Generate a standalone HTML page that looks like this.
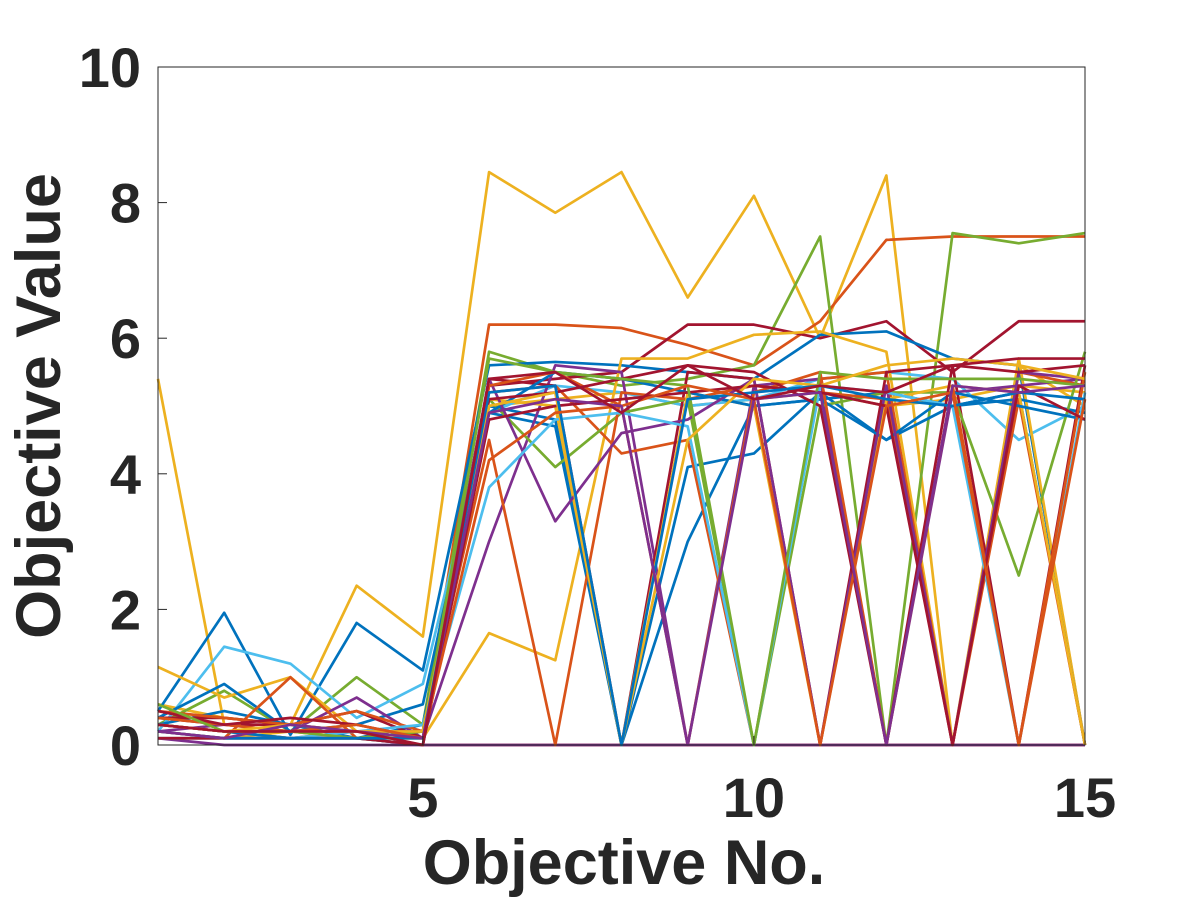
<!DOCTYPE html>
<html><head><meta charset="utf-8"><style>
body{margin:0;background:#fff;}
svg text{font-family:"Liberation Sans",Arial,sans-serif;font-weight:bold;fill:#262626;}
</style></head><body>
<svg id="chart" width="1200" height="900" viewBox="0 0 1200 900" xmlns="http://www.w3.org/2000/svg">
<rect width="1200" height="900" fill="#fff"/>
<g id="lines"></g>
<rect x="158" y="67" width="927" height="678" fill="none" stroke="#262626" stroke-width="1"/>
<g id="ticks"></g>
<text x="624" y="884" font-size="63" text-anchor="middle">Objective No.</text>
<text transform="translate(60,406) rotate(-90)" font-size="63" text-anchor="middle">Objective Value</text>
</svg>
<script>
const xTicks=[5,10,15];
const yTicks=[0,2,4,6,8,10];
const s1=[5.4,0.3,0.2,0.1,0.1,5.0,5.1,5.2,5.0,5.1,5.2,5.0,5.1,5.3,5.2];
const s2=[0.6,0.4,0.3,2.35,1.6,8.45,7.85,8.45,6.6,8.1,6.0,8.4,0,5.6,5.0];
const s3=[0.3,0.2,0.1,0.2,0.2,6.2,6.2,6.15,5.9,5.6,6.25,7.45,7.5,7.5,7.5];
const s4=[0.3,0.8,0.2,1.0,0.3,5.8,5.5,5.3,5.4,5.6,7.5,0,7.55,7.4,7.55];
const s5=[0.4,0.3,0.3,0.2,0.1,5.3,5.4,5.5,6.2,6.2,6.0,6.25,5.5,6.25,6.25];
const s6=[0.5,1.95,0.15,1.8,1.1,5.6,5.65,5.6,5.5,5.4,6.05,6.1,5.7,5.6,0];
const s7=[0.2,1.45,1.2,0.4,0.9,4.9,5.3,5.2,5.0,5.1,5.4,5.5,5.4,4.5,5.0];
const s8=[0.1,0.1,0.1,0.1,0,0,0,0,0,0,0,0,0,0,0];
const s9=[1.15,0.7,1.0,0.2,0.1,1.65,1.25,5.7,5.7,6.05,6.1,5.8,0,5.7,0];
const s10=[0.1,0,0,0,0,0,0,0,0,0,0,0,0,0,0];
const s11=[0.4,0.9,0.2,0.3,0.6,5.0,4.8,0,4.1,4.3,5.2,4.5,5.0,5.2,0];
const s12=[0.3,0.5,0.3,0.1,0.3,4.9,4.7,0,3.0,5.0,5.1,5.2,5.0,5.1,4.9];
const s13=[0.3,0.2,0.2,0.7,0.1,3.0,5.6,5.5,0,5.3,5.4,0,5.2,5.3,5.4];
const s14=[0.2,0.1,1.0,0.1,0.2,5.2,5.3,4.3,4.5,0,5.4,5.5,0,5.5,5.3];
const s15=[0.4,0.4,0.3,0.5,0.1,5.4,5.3,0,5.5,5.4,0,5.5,5.6,0,5.6];
const s16=[0.3,0.2,0.1,0.1,0.2,5.1,4.1,4.9,5.1,0,5.0,5.2,5.2,2.5,5.8];
const s17=[0.5,0.4,0.3,0.5,0.2,4.5,0,5.2,5.1,5.3,5.2,5.1,0,5.1,0];
const s18=[0.2,0.1,0.2,0.1,0.1,5.1,5.0,0,5.2,5.0,0,5.1,5.3,5.2,0];
const s19=[0.3,0.2,0.1,0.1,0.0,4.9,5.5,5.4,5.2,5.0,5.1,4.5,5.2,5.0,4.8];
const s20=[0.2,0.3,0.2,0.2,0.2,5.4,3.3,4.6,4.8,5.4,0,5.3,0,5.5,5.4];
const s21=[0.1,0.1,0.1,0.2,0.3,3.8,4.8,4.9,4.7,0,5.3,5.2,5.0,0,5.2];
const s22=[0.4,0.3,0.2,0.2,0.1,5.3,5.5,5.0,0,5.2,5.5,0,5.3,0,5.5];
const s23=[0.5,0.3,0.4,0.3,0.1,5.1,5.2,5.4,5.6,5.5,5.0,0,5.6,5.5,5.6];
const s24=[0.1,0.1,0.1,0.1,0.0,4.8,5.0,5.1,5.2,5.3,5.2,5.0,0,5.3,4.8];
const s25=[0.6,0.2,0.2,0.1,0.2,5.7,5.5,5.4,5.3,0,5.5,5.4,5.4,5.4,5.3];
const s26=[0.3,0.2,0.3,0.2,0.2,5.0,5.2,0,4.5,5.4,5.3,5.6,5.7,5.6,5.4];
const s27=[0.2,0.1,0.1,0.1,0.1,5.2,5.3,0,5.1,5.2,5.3,5.1,5.0,5.2,5.1];
const s28=[0.3,0.2,0.2,0.3,0.1,4.2,4.9,5.0,5.3,5.1,0,5.0,5.2,0,5.1];
const s29=[0.2,0.1,0.3,0.2,0.1,4.9,5.1,5.0,0,5.1,5.2,0,5.3,5.2,5.3];
const s30=[0.3,0.2,0.2,0.2,0.0,5.4,5.5,4.9,5.6,5.1,5.3,5.2,5.6,5.7,5.7];
const series=[s1,s2,s3,s4,s5,s6,s7,s8,s9,s10,s11,s12,s13,s14,s15,s16,s17,s18,s19,s20,s21,s22,s23,s24,s25,s26,s27,s28,s29,s30];
const colorIdx=[2,2,1,4,6,0,5,1,2,3,0,0,3,1,6,4,1,2,0,3,5,1,6,6,4,2,0,1,3,6];
const palette=['#0072BD','#D95319','#EDB120','#7E2F8E','#77AC30','#4DBEEE','#A2142F'];
const NS='http://www.w3.org/2000/svg';
const X=v=>158+(v-1)*(927/14);
const Y=v=>745-v*67.8;
const lg=document.getElementById('lines');
series.forEach((s,i)=>{
  const p=document.createElementNS(NS,'polyline');
  p.setAttribute('points',s.map((v,j)=>X(j+1)+','+Y(v)).join(' '));
  p.setAttribute('fill','none');
  p.setAttribute('stroke',palette[colorIdx[i]]);
  p.setAttribute('stroke-width','2.7');
  p.setAttribute('stroke-linejoin','round');
  
  
  lg.appendChild(p);
});
const tg=document.getElementById('ticks');
yTicks.forEach(v=>{
  const l=document.createElementNS(NS,'line');
  l.setAttribute('x1',158);l.setAttribute('x2',167);l.setAttribute('y1',Y(v));l.setAttribute('y2',Y(v));
  l.setAttribute('stroke','#262626');
  
  
  tg.appendChild(l);
  const t=document.createElementNS(NS,'text');
  t.setAttribute('x',141);t.setAttribute('y',Y(v)+20);t.setAttribute('font-size','56');t.setAttribute('text-anchor','end');
  t.textContent=v;
  
  
  tg.appendChild(t);
});
xTicks.forEach(v=>{
  const l=document.createElementNS(NS,'line');
  l.setAttribute('x1',X(v));l.setAttribute('x2',X(v));l.setAttribute('y1',745);l.setAttribute('y2',736);
  l.setAttribute('stroke','#262626');
  
  
  tg.appendChild(l);
  const t=document.createElementNS(NS,'text');
  t.setAttribute('x',X(v));t.setAttribute('y',817);t.setAttribute('font-size','56');t.setAttribute('text-anchor','middle');
  t.textContent=v;
  
  
  tg.appendChild(t);
});
</script>
</body></html>
